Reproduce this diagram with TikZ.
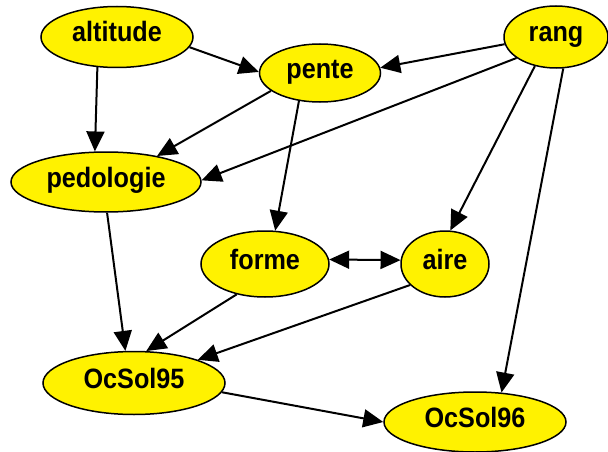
\documentclass[tikz,border=0pt]{standalone}
\usepackage{fontspec}
\setmainfont{Liberation Sans}
\newfontfamily\noeudfont[FakeStretch=0.9]{Liberation Sans}
\usetikzlibrary{shapes.geometric,arrows.meta}
\begin{document}
\begin{tikzpicture}[x=1pt,y=-1pt,
    var/.style={draw, ellipse, fill=yellow, line width=1.5pt, inner sep=0pt,
      text height=20pt, text depth=10pt,
      font=\noeudfont\fontsize{28}{32}\selectfont\bfseries},
    lien/.style={-{Triangle[length=20pt,width=18pt]}, line width=2pt}]
  \useasboundingbox (0,0) rectangle (608,452);

  \node[var, minimum width=152pt, minimum height=61pt] (altitude) at (117,37) {altitude};
  \node[var, minimum width=121pt, minimum height=58pt] (pente) at (320,73) {pente};
  \node[var, minimum width=104pt, minimum height=62pt] (rang) at (556,37) {rang};
  \node[var, minimum width=190pt, minimum height=60pt] (pedologie) at (106,182) {pedologie};
  \node[var, minimum width=128pt, minimum height=66pt] (forme) at (265,264) {forme};
  \node[var, minimum width=88pt, minimum height=66pt] (aire) at (445,264) {aire};
  \node[var, minimum width=182pt, minimum height=63pt] (ocsol95) at (134,383) {OcSol95};
  \node[var, minimum width=182pt, minimum height=60pt] (ocsol96) at (475,422) {OcSol96};

  \draw[lien] (altitude.-8) -- (pente.179);
  \draw[lien] (altitude.-123) -- (pedologie.110);
  \draw[lien] (pente.-160) -- (pedologie.27);
  \draw[lien] (pente.-127) -- (forme.73);
  \draw[lien] (rang.-172) -- (pente.5);
  \draw[lien] (rang.-152) -- (pedologie.1);
  \draw[lien] (rang.-126) -- (aire.81);
  \draw[lien] (rang.-77) -- (ocsol96.48);
  \draw[lien] (pedologie.-88) -- (ocsol95.105);
  \draw[lien, {Triangle[length=20pt,width=18pt]}-{Triangle[length=20pt,width=18pt]}] (forme.4) -- (aire.175);
  \draw[lien] (forme.-133) -- (ocsol95.69);
  \draw[lien] (aire.-149) -- (ocsol95.20);
  \draw[lien] (ocsol95.-6) -- (ocsol96.180);
\end{tikzpicture}
\end{document}
